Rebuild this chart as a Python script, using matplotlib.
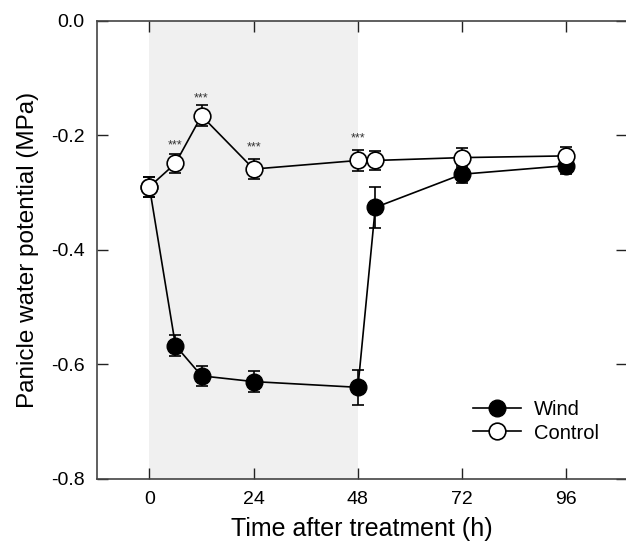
import matplotlib
matplotlib.use("Agg")
import matplotlib.pyplot as plt

plt.rcParams['font.family'] = ['Liberation Sans', 'DejaVu Sans']
plt.rcParams['axes.unicode_minus'] = False

# data (hours after treatment, MPa)
hours = [0, 6, 12, 24, 48, 52, 72, 96]
wind = [-0.29, -0.567, -0.620, -0.630, -0.640, -0.326, -0.268, -0.253]
wind_err = [0.018, 0.018, 0.018, 0.018, 0.031, 0.036, 0.016, 0.015]
control = [-0.29, -0.249, -0.166, -0.259, -0.244, -0.244, -0.239, -0.236]
control_err = [0.018, 0.017, 0.018, 0.018, 0.018, 0.016, 0.016, 0.016]

star_hours = [6, 12, 24, 48]
star_y = [-0.218, -0.136, -0.222, -0.205]

fig = plt.figure(figsize=(6.26, 5.43), dpi=100)
ax = fig.add_axes([0.1554, 0.1179, 0.8466, 0.844])

ax.axvspan(0, 48, color='#f0f0f0', zorder=0, lw=0)

w = ax.errorbar(hours, wind, yerr=wind_err, fmt='-o', color='black', mfc='black',
                mec='black', ms=12, lw=1.2, elinewidth=1.2, capsize=4.5,
                capthick=1.2, zorder=3)
c = ax.errorbar(hours, control, yerr=control_err, fmt='-o', color='black', mfc='white',
                mec='black', ms=12, mew=1.2, lw=1.2, elinewidth=1.2, capsize=4.5,
                capthick=1.2, zorder=4)

for h, y in zip(star_hours, star_y):
    ax.text(h, y, '***', ha='center', va='center', fontsize=9, color='#333333')

ax.set_xlim(-12, 110)
ax.set_ylim(-0.8, 0.0)
ax.set_xticks([0, 24, 48, 72, 96])
ax.set_yticks([0.0, -0.2, -0.4, -0.6, -0.8])
ax.set_yticklabels(['0.0', '-0.2', '-0.4', '-0.6', '-0.8'])
ax.tick_params(direction='in', length=8, width=1, top=True, right=True,
               labelsize=14, pad=9, color='#222222')
for s in ax.spines.values():
    s.set_color('#444444')
    s.set_linewidth(1.2)

ax.set_xlabel('Time after treatment (h)', fontsize=18, labelpad=6)
ax.set_ylabel('Panicle water potential (MPa)', fontsize=17.5, labelpad=9)

ax.legend([w[0], c[0]], ['Wind', 'Control'], loc='lower right',
          bbox_to_anchor=(0.98, 0.04), frameon=False, fontsize=14.5,
          handlelength=2.4, handletextpad=0.6, labelspacing=0.2)

fig.savefig('out.png', dpi=100)
